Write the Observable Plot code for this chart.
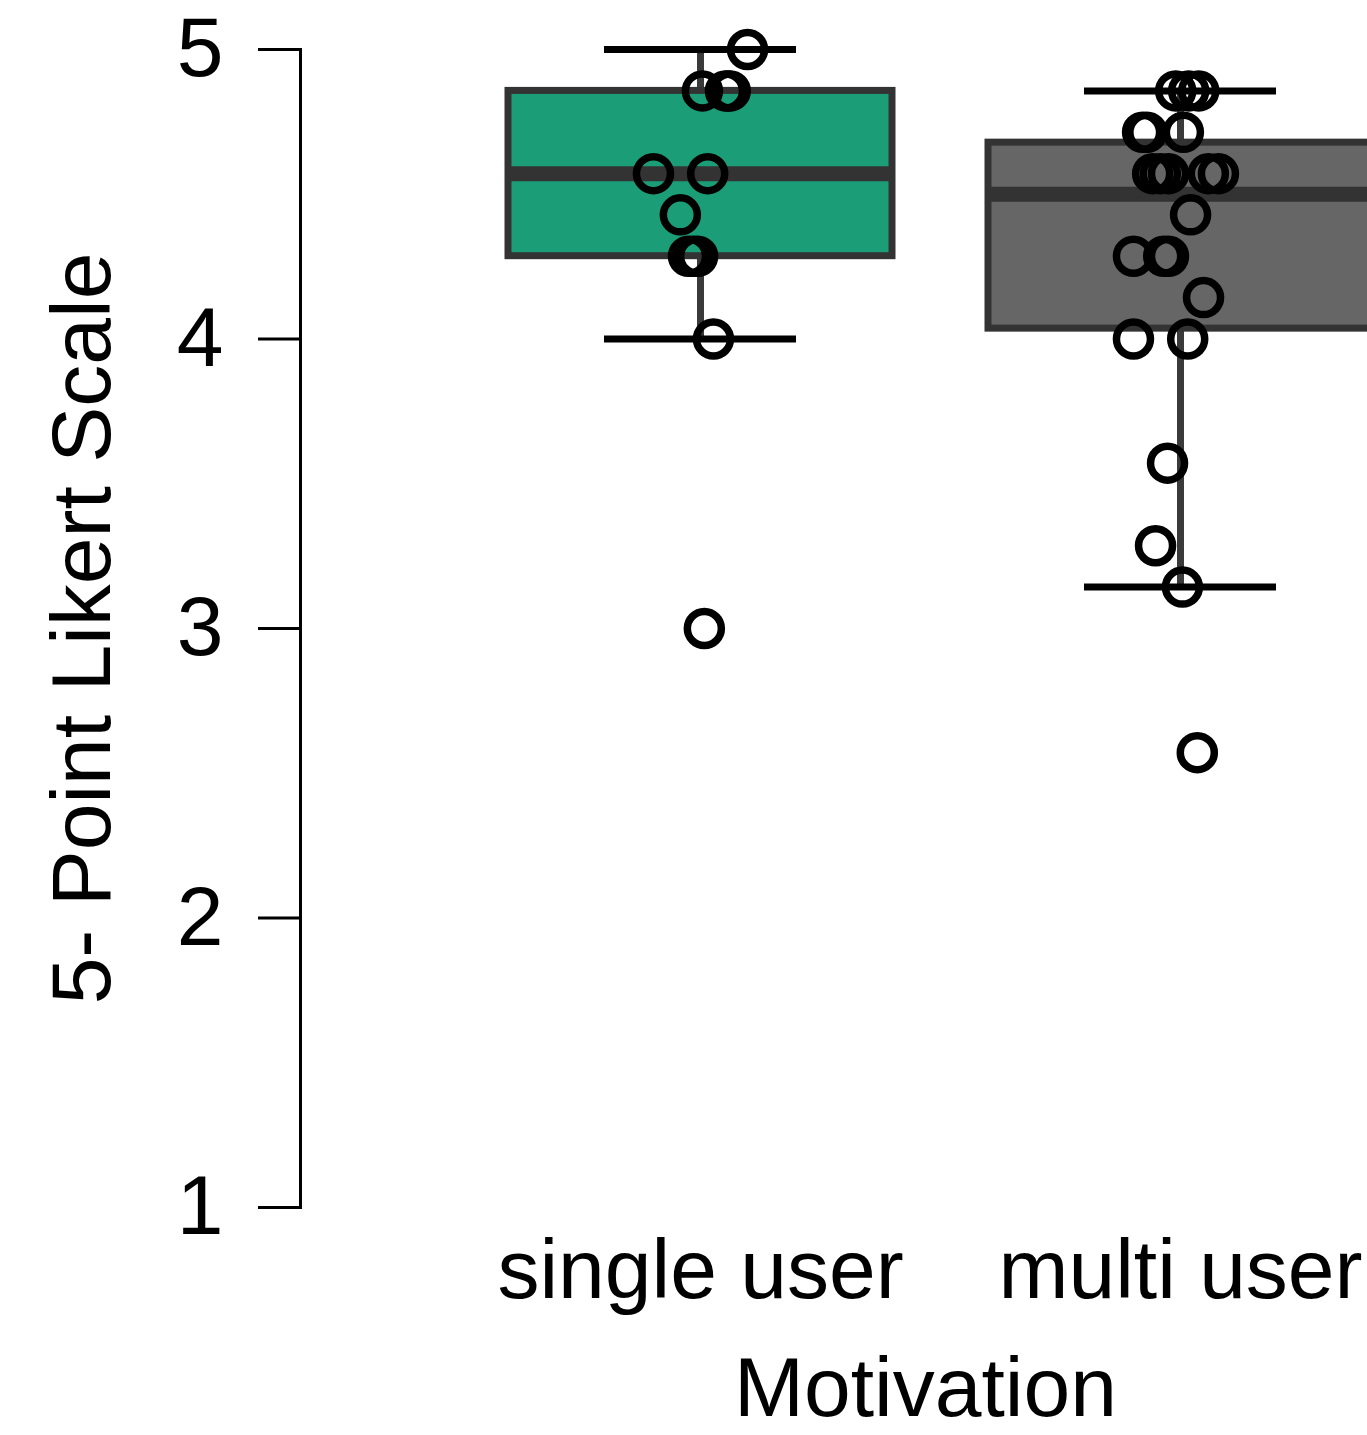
<!DOCTYPE html>
<html>
<head>
<meta charset="utf-8">
<script src="https://cdn.jsdelivr.net/npm/d3@7"></script>
<script src="https://cdn.jsdelivr.net/npm/@observablehq/plot@0.6"></script>
<style>
  html, body { margin: 0; padding: 0; background: #fff; }
</style>
</head>
<body>
<div id="chart"></div>
<script>
// ---- data ----
const categories = ["single user", "multi user"];
const boxColors = ["#1b9e77", "#666666"];

// per-respondent mean scores (multiples of 1/7)
const singleValues = [5.0, 4.857, 4.857, 4.857, 4.857, 4.571, 4.571, 4.429, 4.286, 4.286, 4.286, 4.0, 3.0];
// horizontal jitter of each point, in category-step units
const singleJitter = [0.098, 0.004, 0.052, 0.062, 0.057, -0.098, 0.015, -0.042, -0.025, -0.015, -0.006, 0.027, 0.008];

const multiValues = [4.857, 4.857, 4.857, 4.714, 4.714, 4.714, 4.571, 4.571, 4.571, 4.571, 4.571, 4.429, 4.286, 4.286, 4.286, 4.143, 4.0, 4.0, 3.571, 3.286, 3.143, 2.571];
const multiJitter = [-0.010, 0.038, 0.017, -0.079, 0.006, -0.070, -0.058, -0.042, -0.025, 0.058, 0.079, 0.021, -0.098, -0.035, -0.025, 0.048, -0.098, 0.015, -0.027, -0.052, 0.004, 0.035];

const yTicks = [1, 2, 3, 4, 5];
const yLabel = "5- Point Likert Scale";
const xLabel = "Motivation";

// ---- derived tables ----
const groups = [singleValues, multiValues];
const jitters = [singleJitter, multiJitter];
const points = groups.flatMap((vals, i) => vals.map((v, k) => ({cat: i, value: v, jitter: jitters[i][k]})));

const stats = groups.map((vals, i) => {
  const s = vals.slice().sort(d3.ascending);
  const q1 = d3.quantile(s, 0.25);
  const median = d3.quantile(s, 0.5);
  const q3 = d3.quantile(s, 0.75);
  const iqr = q3 - q1;
  const lo = d3.min(s.filter(v => v >= q1 - 1.5 * iqr));
  const hi = d3.max(s.filter(v => v <= q3 + 1.5 * iqr));
  return {i, q1, median, q3, lo, hi, color: boxColors[i]};
});

const FONT = "'Liberation Sans', Arial, Helvetica, sans-serif";

const chart = Plot.plot({
  width: 1367,
  height: 1435,
  marginTop: 49,
  marginBottom: 228,
  marginLeft: 300,
  marginRight: 0,
  style: {fontFamily: FONT, fontSize: "84px", color: "#000", background: "#fff"},
  x: {domain: [0, 1], range: [700, 1180]},
  y: {domain: [1, 5]},
  marks: [
    // whisker stems
    Plot.ruleX(stats, {x: "i", y1: "lo", y2: "hi", stroke: "#3a3a3a", strokeWidth: 7}),
    // caps
    Plot.ruleY(stats, {y: "lo", x1: d => d.i - 0.2, x2: d => d.i + 0.2, stroke: "#000", strokeWidth: 7}),
    Plot.ruleY(stats, {y: "hi", x1: d => d.i - 0.2, x2: d => d.i + 0.2, stroke: "#000", strokeWidth: 7}),
    // boxes
    Plot.rect(stats, {x1: d => d.i - 0.4, x2: d => d.i + 0.4, y1: "q1", y2: "q3", fill: "color", stroke: "#333333", strokeWidth: 7}),
    // medians
    Plot.ruleY(stats, {y: "median", x1: d => d.i - 0.4, x2: d => d.i + 0.4, stroke: "#333333", strokeWidth: 15}),
    // points
    Plot.dot(points, {x: d => d.cat + d.jitter, y: "value", r: 17, fill: "none", stroke: "#000", strokeWidth: 7.5}),
    // axes
    Plot.axisY({ticks: yTicks, tickFormat: d3.format("d"), tickSize: 42, tickPadding: 35, strokeWidth: 3, fontSize: 84,
      label: yLabel, labelAnchor: "center", labelOffset: 250, labelArrow: "none"}),
    Plot.frame({anchor: "left", strokeWidth: 3}),
    Plot.axisX({ticks: [0, 1], tickFormat: i => categories[i], tickSize: 0, tickPadding: 31, fontSize: 84, label: null}),
    Plot.text([xLabel], {frameAnchor: "bottom", lineAnchor: "middle", text: d => d, dx: 91.5, dy: 182, fontSize: 84})
  ]
});
document.getElementById("chart").appendChild(chart);
</script>
</body>
</html>
